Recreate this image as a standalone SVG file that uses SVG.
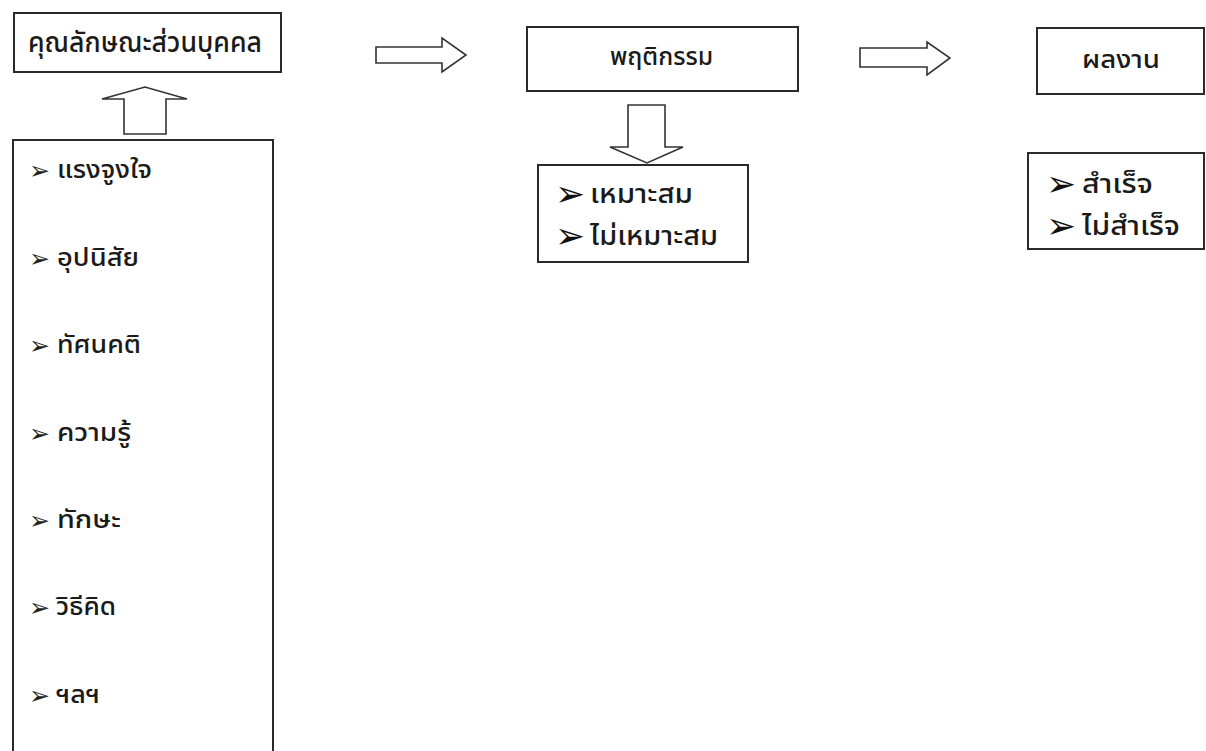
<svg xmlns="http://www.w3.org/2000/svg" width="1206" height="751" viewBox="0 0 1206 751">
<style>
.box{fill:#fff;stroke:#2a2a2a;stroke-width:2}
.arr{fill:#fff;stroke:#333;stroke-width:1.6;stroke-linejoin:miter}
.t{font-family:"Noto Sans Thai","Noto Sans","DejaVu Sans",sans-serif;fill:#1a1a1a;font-weight:500}
.title{font-size:29px}
.title2{font-size:25px}
.item{font-size:25px}
.item2{font-size:26px}
.b1{font-family:"DejaVu Sans",sans-serif;font-size:25px;fill:#222}
.b2{font-family:"DejaVu Sans",sans-serif;font-size:36px;fill:#111}
</style>
<rect width="1206" height="751" fill="#fff"/>
<g id="connectors">
<path class="arr" d="M124,134 V99 H102 L145,87 L187,99 H166 V134 Z"/>
<path class="arr" d="M376,47 H442 V38 L466,55 L442,72 V63 H376 Z"/>
<path class="arr" d="M628,105 H665 V147 H683 L647,163 L610,147 H628 Z"/>
<path class="arr" d="M860,48 H927 V42 L950,58 L927,75 V67 H860 Z"/>
</g>
<g id="node-personal">
<rect class="box" x="14" y="13" width="267" height="59"/>
<text class="t title" x="28" y="52" textLength="234" lengthAdjust="spacingAndGlyphs">คุณลักษณะส่วนบุคคล</text>
</g>
<g id="node-traits">
<rect class="box" x="13" y="140" width="260" height="620"/>
<text class="b1" x="29" y="179">➢</text><text class="t item" x="57" y="178" textLength="95" lengthAdjust="spacingAndGlyphs">แรงจูงใจ</text>
<text class="b1" x="29" y="267">➢</text><text class="t item" x="57" y="266" textLength="82" lengthAdjust="spacingAndGlyphs">อุปนิสัย</text>
<text class="b1" x="29" y="354">➢</text><text class="t item" x="57" y="353" textLength="84" lengthAdjust="spacingAndGlyphs">ทัศนคติ</text>
<text class="b1" x="29" y="442">➢</text><text class="t item" x="57" y="441" textLength="74" lengthAdjust="spacingAndGlyphs">ความรู้</text>
<text class="b1" x="29" y="529">➢</text><text class="t item" x="57" y="528" textLength="64" lengthAdjust="spacingAndGlyphs">ทักษะ</text>
<text class="b1" x="29" y="616">➢</text><text class="t item" x="56" y="615" textLength="60" lengthAdjust="spacingAndGlyphs">วิธีคิด</text>
<text class="b1" x="29" y="704">➢</text><text class="t item" x="56" y="703" textLength="44" lengthAdjust="spacingAndGlyphs">ฯลฯ</text>
</g>
<g id="node-behavior">
<rect class="box" x="527" y="27" width="271" height="64"/>
<text class="t title2" x="610" y="65" textLength="103" lengthAdjust="spacingAndGlyphs">พฤติกรรม</text>
</g>
<g id="node-behavior-list">
<rect class="box" x="538" y="165" width="210" height="97"/>
<text class="b2" x="555" y="206">➢</text><text class="t item2" x="590" y="203" textLength="103" lengthAdjust="spacingAndGlyphs">เหมาะสม</text>
<text class="b2" x="555" y="248">➢</text><text class="t item2" x="590" y="245" textLength="128" lengthAdjust="spacingAndGlyphs">ไม่เหมาะสม</text>
</g>
<g id="node-result">
<rect class="box" x="1037" y="28" width="167" height="66"/>
<text class="t title2" x="1082" y="68" textLength="78" lengthAdjust="spacingAndGlyphs">ผลงาน</text>
</g>
<g id="node-result-list">
<rect class="box" x="1028" y="153" width="176" height="96"/>
<text class="b2" x="1046" y="196">➢</text><text class="t item2" x="1082" y="193" textLength="71" lengthAdjust="spacingAndGlyphs">สำเร็จ</text>
<text class="b2" x="1046" y="238">➢</text><text class="t item2" x="1082" y="235" textLength="98" lengthAdjust="spacingAndGlyphs">ไม่สำเร็จ</text>
</g>
</svg>
